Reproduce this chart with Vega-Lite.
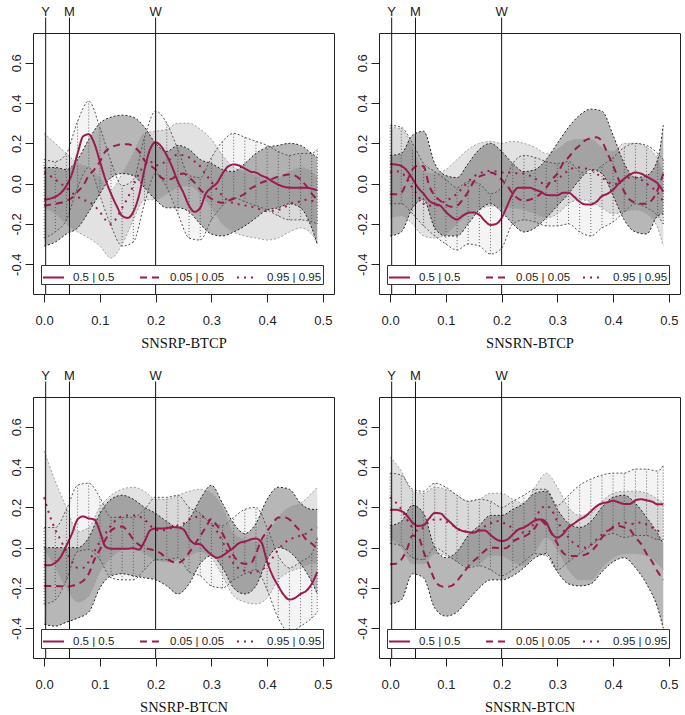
{
"$schema":"https://vega.github.io/schema/vega-lite/v6.json",
"background":"white",
"padding":{"left":9,"top":5,"right":2,"bottom":0},
"autosize":{"type":"pad"},
"datasets":{
"marks":[{"x":0.00274,"t":"Y"},{"x":0.04545,"t":"M"},{"x":0.2,"t":"W"}],
"lines":[
{"p":1,"x":0,"a":-0.08,"b":-0.11,"c":0.055},{"p":1,"x":0.01,"a":-0.075,"b":-0.105,"c":0.04},{"p":1,"x":0.02,"a":-0.065,"b":-0.1,"c":0.02},{"p":1,"x":0.03,"a":-0.046,"b":-0.095,"c":0},{"p":1,"x":0.04,"a":-0.01,"b":-0.085,"c":-0.02},{"p":1,"x":0.05,"a":0.05,"b":-0.07,"c":-0.045},{"p":1,"x":0.06,"a":0.15,"b":-0.04,"c":-0.065},{"p":1,"x":0.07,"a":0.235,"b":-0.01,"c":-0.08},{"p":1,"x":0.08,"a":0.245,"b":0.04,"c":-0.09},{"p":1,"x":0.09,"a":0.2,"b":0.07,"c":-0.11},{"p":1,"x":0.1,"a":0.11,"b":0.11,"c":-0.14},{"p":1,"x":0.11,"a":0.02,"b":0.16,"c":-0.18},{"p":1,"x":0.12,"a":-0.05,"b":0.18,"c":-0.2},{"p":1,"x":0.13,"a":-0.11,"b":0.19,"c":-0.17},{"p":1,"x":0.14,"a":-0.16,"b":0.195,"c":-0.12},{"p":1,"x":0.15,"a":-0.17,"b":0.195,"c":-0.07},{"p":1,"x":0.16,"a":-0.14,"b":0.185,"c":-0.01},{"p":1,"x":0.17,"a":-0.06,"b":0.16,"c":0.05},{"p":1,"x":0.18,"a":0.07,"b":0.115,"c":0.09},{"p":1,"x":0.19,"a":0.17,"b":0.09,"c":0.11},{"p":1,"x":0.2,"a":0.205,"b":0.07,"c":0.09},{"p":1,"x":0.21,"a":0.185,"b":0.03,"c":0.1},{"p":1,"x":0.22,"a":0.14,"b":0.02,"c":0.11},{"p":1,"x":0.23,"a":0.08,"b":0.025,"c":0.13},{"p":1,"x":0.24,"a":0.01,"b":0.045,"c":0.145},{"p":1,"x":0.25,"a":-0.046,"b":0.05,"c":0.14},{"p":1,"x":0.26,"a":-0.11,"b":0.03,"c":0.13},{"p":1,"x":0.27,"a":-0.14,"b":0.005,"c":0.11},{"p":1,"x":0.28,"a":-0.12,"b":-0.03,"c":0.086},{"p":1,"x":0.29,"a":-0.05,"b":-0.055,"c":0.045},{"p":1,"x":0.3,"a":-0.02,"b":-0.075,"c":0.01},{"p":1,"x":0.31,"a":0.003,"b":-0.09,"c":-0.03},{"p":1,"x":0.32,"a":0.05,"b":-0.095,"c":-0.06},{"p":1,"x":0.33,"a":0.085,"b":-0.085,"c":-0.085},{"p":1,"x":0.34,"a":0.095,"b":-0.075,"c":-0.097},{"p":1,"x":0.35,"a":0.09,"b":-0.065,"c":-0.103},{"p":1,"x":0.36,"a":0.075,"b":-0.05,"c":-0.108},{"p":1,"x":0.37,"a":0.06,"b":-0.025,"c":-0.113},{"p":1,"x":0.38,"a":0.055,"b":-0.01,"c":-0.12},{"p":1,"x":0.39,"a":0.04,"b":0.005,"c":-0.13},{"p":1,"x":0.4,"a":0.028,"b":0.015,"c":-0.137},{"p":1,"x":0.41,"a":0.01,"b":0.025,"c":-0.135},{"p":1,"x":0.42,"a":-0.005,"b":0.035,"c":-0.13},{"p":1,"x":0.43,"a":-0.015,"b":0.042,"c":-0.12},{"p":1,"x":0.44,"a":-0.02,"b":0.045,"c":-0.1},{"p":1,"x":0.45,"a":-0.02,"b":0.04,"c":-0.093},{"p":1,"x":0.46,"a":-0.02,"b":0.02,"c":-0.088},{"p":1,"x":0.47,"a":-0.02,"b":-0.01,"c":-0.08},{"p":1,"x":0.48,"a":-0.025,"b":-0.05,"c":-0.085},{"p":1,"x":0.49,"a":-0.033,"b":-0.08,"c":-0.105},
{"p":2,"x":0,"a":0.097,"b":-0.053,"c":0.055},{"p":2,"x":0.01,"a":0.095,"b":-0.053,"c":0.062},{"p":2,"x":0.02,"a":0.088,"b":-0.045,"c":0.055},{"p":2,"x":0.03,"a":0.065,"b":0.01,"c":0.025},{"p":2,"x":0.04,"a":0.025,"b":0.07,"c":-0.02},{"p":2,"x":0.05,"a":-0.02,"b":0.09,"c":-0.06},{"p":2,"x":0.06,"a":-0.05,"b":0.085,"c":-0.1},{"p":2,"x":0.07,"a":-0.085,"b":-0.01,"c":-0.11},{"p":2,"x":0.08,"a":-0.1,"b":-0.06,"c":-0.11},{"p":2,"x":0.09,"a":-0.11,"b":-0.085,"c":-0.1},{"p":2,"x":0.1,"a":-0.14,"b":-0.105,"c":-0.085},{"p":2,"x":0.11,"a":-0.165,"b":-0.115,"c":-0.07},{"p":2,"x":0.12,"a":-0.178,"b":-0.11,"c":-0.05},{"p":2,"x":0.13,"a":-0.16,"b":-0.08,"c":-0.02},{"p":2,"x":0.14,"a":-0.145,"b":-0.04,"c":0.01},{"p":2,"x":0.15,"a":-0.143,"b":0.01,"c":0.035},{"p":2,"x":0.16,"a":-0.155,"b":0.035,"c":0.05},{"p":2,"x":0.17,"a":-0.185,"b":0.045,"c":0.06},{"p":2,"x":0.18,"a":-0.205,"b":0.055,"c":0.063},{"p":2,"x":0.19,"a":-0.2,"b":0.045,"c":0.06},{"p":2,"x":0.2,"a":-0.17,"b":0.02,"c":0.055},{"p":2,"x":0.21,"a":-0.11,"b":-0.01,"c":0.055},{"p":2,"x":0.22,"a":-0.05,"b":-0.05,"c":0.055},{"p":2,"x":0.23,"a":-0.02,"b":-0.075,"c":0.05},{"p":2,"x":0.24,"a":-0.02,"b":-0.085,"c":0.05},{"p":2,"x":0.25,"a":-0.02,"b":-0.08,"c":0.04},{"p":2,"x":0.26,"a":-0.03,"b":-0.07,"c":0.025},{"p":2,"x":0.27,"a":-0.04,"b":-0.05,"c":0.005},{"p":2,"x":0.28,"a":-0.055,"b":-0.02,"c":0},{"p":2,"x":0.29,"a":-0.058,"b":0.02,"c":0.005},{"p":2,"x":0.3,"a":-0.058,"b":0.05,"c":0.02},{"p":2,"x":0.31,"a":-0.045,"b":0.1,"c":0.045},{"p":2,"x":0.32,"a":-0.045,"b":0.13,"c":0.065},{"p":2,"x":0.33,"a":-0.065,"b":0.165,"c":0.078},{"p":2,"x":0.34,"a":-0.09,"b":0.19,"c":0.08},{"p":2,"x":0.35,"a":-0.103,"b":0.215,"c":0.075},{"p":2,"x":0.36,"a":-0.103,"b":0.225,"c":0.07},{"p":2,"x":0.37,"a":-0.09,"b":0.23,"c":0.05},{"p":2,"x":0.38,"a":-0.062,"b":0.21,"c":0.03},{"p":2,"x":0.39,"a":-0.05,"b":0.15,"c":0.01},{"p":2,"x":0.4,"a":-0.03,"b":0.09,"c":-0.005},{"p":2,"x":0.41,"a":0,"b":0.02,"c":0.005},{"p":2,"x":0.42,"a":0.025,"b":-0.04,"c":0.02},{"p":2,"x":0.43,"a":0.045,"b":-0.08,"c":0.03},{"p":2,"x":0.44,"a":0.055,"b":-0.095,"c":0.03},{"p":2,"x":0.45,"a":0.05,"b":-0.1,"c":0.02},{"p":2,"x":0.46,"a":0.035,"b":-0.1,"c":0},{"p":2,"x":0.47,"a":0.02,"b":-0.08,"c":-0.02},{"p":2,"x":0.48,"a":0,"b":-0.03,"c":-0.045},{"p":2,"x":0.49,"a":-0.04,"b":0.05,"c":-0.09},
{"p":3,"x":0,"a":-0.088,"b":-0.19,"c":0.25},{"p":3,"x":0.01,"a":-0.087,"b":-0.19,"c":0.16},{"p":3,"x":0.02,"a":-0.075,"b":-0.19,"c":0.09},{"p":3,"x":0.03,"a":-0.045,"b":-0.192,"c":0.035},{"p":3,"x":0.04,"a":0.01,"b":-0.195,"c":-0.02},{"p":3,"x":0.05,"a":0.07,"b":-0.19,"c":-0.07},{"p":3,"x":0.06,"a":0.14,"b":-0.18,"c":-0.1},{"p":3,"x":0.07,"a":0.155,"b":-0.165,"c":-0.1},{"p":3,"x":0.08,"a":0.145,"b":-0.13,"c":-0.07},{"p":3,"x":0.09,"a":0.14,"b":-0.06,"c":-0.02},{"p":3,"x":0.1,"a":0.08,"b":-0.01,"c":0.03},{"p":3,"x":0.11,"a":0.005,"b":0.04,"c":0.07},{"p":3,"x":0.12,"a":-0.005,"b":0.085,"c":0.11},{"p":3,"x":0.13,"a":-0.005,"b":0.1,"c":0.14},{"p":3,"x":0.14,"a":-0.005,"b":0.105,"c":0.155},{"p":3,"x":0.15,"a":-0.005,"b":0.08,"c":0.16},{"p":3,"x":0.16,"a":-0.003,"b":0.04,"c":0.16},{"p":3,"x":0.17,"a":-0.01,"b":0.015,"c":0.155},{"p":3,"x":0.18,"a":0.03,"b":0,"c":0.14},{"p":3,"x":0.19,"a":0.085,"b":-0.008,"c":0.11},{"p":3,"x":0.2,"a":0.095,"b":-0.015,"c":0.09},{"p":3,"x":0.21,"a":0.095,"b":-0.03,"c":0.085},{"p":3,"x":0.22,"a":0.097,"b":-0.055,"c":0.09},{"p":3,"x":0.23,"a":0.102,"b":-0.07,"c":0.1},{"p":3,"x":0.24,"a":0.1,"b":-0.075,"c":0.11},{"p":3,"x":0.25,"a":0.09,"b":-0.06,"c":0.12},{"p":3,"x":0.26,"a":0.045,"b":-0.025,"c":0.14},{"p":3,"x":0.27,"a":0.02,"b":0.015,"c":0.15},{"p":3,"x":0.28,"a":0.017,"b":0.058,"c":0.155},{"p":3,"x":0.29,"a":-0.01,"b":0.1,"c":0.15},{"p":3,"x":0.3,"a":-0.035,"b":0.142,"c":0.12},{"p":3,"x":0.31,"a":-0.05,"b":0.11,"c":0.08},{"p":3,"x":0.32,"a":-0.04,"b":0.07,"c":0.03},{"p":3,"x":0.33,"a":-0.02,"b":0.015,"c":-0.03},{"p":3,"x":0.34,"a":0,"b":-0.04,"c":-0.08},{"p":3,"x":0.35,"a":0.023,"b":-0.07,"c":-0.105},{"p":3,"x":0.36,"a":0.03,"b":-0.08,"c":-0.115},{"p":3,"x":0.37,"a":0.04,"b":-0.08,"c":-0.125},{"p":3,"x":0.38,"a":0.045,"b":-0.03,"c":-0.12},{"p":3,"x":0.39,"a":0.025,"b":0.04,"c":-0.11},{"p":3,"x":0.4,"a":-0.07,"b":0.08,"c":-0.09},{"p":3,"x":0.41,"a":-0.14,"b":0.12,"c":-0.05},{"p":3,"x":0.42,"a":-0.19,"b":0.15,"c":-0.01},{"p":3,"x":0.43,"a":-0.235,"b":0.15,"c":0.02},{"p":3,"x":0.44,"a":-0.258,"b":0.14,"c":0.04},{"p":3,"x":0.45,"a":-0.25,"b":0.11,"c":0.05},{"p":3,"x":0.46,"a":-0.23,"b":0.08,"c":0.06},{"p":3,"x":0.47,"a":-0.215,"b":0.04,"c":0.07},{"p":3,"x":0.48,"a":-0.18,"b":0.02,"c":0.09},{"p":3,"x":0.49,"a":-0.12,"b":-0.008,"c":0.1},
{"p":4,"x":0,"a":0.188,"b":-0.083,"c":0.25},{"p":4,"x":0.01,"a":0.188,"b":-0.08,"c":0.225},{"p":4,"x":0.02,"a":0.182,"b":-0.06,"c":0.19},{"p":4,"x":0.03,"a":0.16,"b":-0.01,"c":0.14},{"p":4,"x":0.04,"a":0.125,"b":0.06,"c":0.1},{"p":4,"x":0.05,"a":0.108,"b":0.055,"c":0.083},{"p":4,"x":0.06,"a":0.112,"b":-0.02,"c":0.1},{"p":4,"x":0.07,"a":0.145,"b":-0.09,"c":0.128},{"p":4,"x":0.08,"a":0.172,"b":-0.16,"c":0.14},{"p":4,"x":0.09,"a":0.17,"b":-0.19,"c":0.14},{"p":4,"x":0.1,"a":0.145,"b":-0.195,"c":0.13},{"p":4,"x":0.11,"a":0.12,"b":-0.19,"c":0.115},{"p":4,"x":0.12,"a":0.095,"b":-0.165,"c":0.095},{"p":4,"x":0.13,"a":0.083,"b":-0.13,"c":0.085},{"p":4,"x":0.14,"a":0.077,"b":-0.095,"c":0.078},{"p":4,"x":0.15,"a":0.075,"b":-0.065,"c":0.075},{"p":4,"x":0.16,"a":0.085,"b":-0.042,"c":0.09},{"p":4,"x":0.17,"a":0.085,"b":-0.015,"c":0.105},{"p":4,"x":0.18,"a":0.063,"b":0,"c":0.12},{"p":4,"x":0.19,"a":0.042,"b":0,"c":0.133},{"p":4,"x":0.2,"a":0.033,"b":-0.005,"c":0.125},{"p":4,"x":0.21,"a":0.04,"b":0,"c":0.115},{"p":4,"x":0.22,"a":0.065,"b":0.03,"c":0.095},{"p":4,"x":0.23,"a":0.09,"b":0.045,"c":0.078},{"p":4,"x":0.24,"a":0.1,"b":0.055,"c":0.075},{"p":4,"x":0.25,"a":0.117,"b":0.07,"c":0.08},{"p":4,"x":0.26,"a":0.135,"b":0.1,"c":0.14},{"p":4,"x":0.27,"a":0.14,"b":0.135,"c":0.19},{"p":4,"x":0.28,"a":0.125,"b":0.11,"c":0.208},{"p":4,"x":0.29,"a":0.07,"b":0.07,"c":0.185},{"p":4,"x":0.3,"a":0.05,"b":0.02,"c":0.13},{"p":4,"x":0.31,"a":0.067,"b":-0.025,"c":0.09},{"p":4,"x":0.32,"a":0.1,"b":-0.04,"c":0.05},{"p":4,"x":0.33,"a":0.12,"b":-0.042,"c":0.02},{"p":4,"x":0.34,"a":0.14,"b":-0.042,"c":0.005},{"p":4,"x":0.35,"a":0.155,"b":-0.035,"c":0},{"p":4,"x":0.36,"a":0.18,"b":-0.02,"c":0.015},{"p":4,"x":0.37,"a":0.205,"b":0.01,"c":0.04},{"p":4,"x":0.38,"a":0.22,"b":0.05,"c":0.065},{"p":4,"x":0.39,"a":0.225,"b":0.08,"c":0.085},{"p":4,"x":0.4,"a":0.233,"b":0.1,"c":0.105},{"p":4,"x":0.41,"a":0.225,"b":0.108,"c":0.12},{"p":4,"x":0.42,"a":0.217,"b":0.1,"c":0.125},{"p":4,"x":0.43,"a":0.217,"b":0.09,"c":0.117},{"p":4,"x":0.44,"a":0.235,"b":0.05,"c":0.12},{"p":4,"x":0.45,"a":0.24,"b":0.02,"c":0.125},{"p":4,"x":0.46,"a":0.235,"b":-0.03,"c":0.115},{"p":4,"x":0.47,"a":0.228,"b":-0.07,"c":0.1},{"p":4,"x":0.48,"a":0.215,"b":-0.12,"c":0.085},{"p":4,"x":0.49,"a":0.215,"b":-0.16,"c":0.065}
],
"bands":[
{"p":1,"x":0,"l1":-0.12,"h1":0.25,"l2":-0.31,"h2":0.08,"l3":-0.27,"h3":0.12},{"p":1,"x":0.02,"l1":-0.15,"h1":0.2,"l2":-0.29,"h2":0.08,"l3":-0.24,"h3":0.11},{"p":1,"x":0.04,"l1":-0.2,"h1":0.15,"l2":-0.25,"h2":0.07,"l3":-0.18,"h3":0.15},{"p":1,"x":0.06,"l1":-0.24,"h1":0.1,"l2":-0.22,"h2":0.12,"l3":-0.02,"h3":0.31},{"p":1,"x":0.08,"l1":-0.27,"h1":0.08,"l2":-0.14,"h2":0.22,"l3":0.08,"h3":0.41},{"p":1,"x":0.1,"l1":-0.31,"h1":0.03,"l2":-0.05,"h2":0.3,"l3":-0.06,"h3":0.28},{"p":1,"x":0.12,"l1":-0.37,"h1":-0.03,"l2":0.03,"h2":0.33,"l3":-0.21,"h3":0.11},{"p":1,"x":0.14,"l1":-0.3,"h1":0.05,"l2":0.05,"h2":0.34,"l3":-0.31,"h3":-0.01},{"p":1,"x":0.16,"l1":-0.18,"h1":0.15,"l2":0.04,"h2":0.33,"l3":-0.29,"h3":0.02},{"p":1,"x":0.18,"l1":-0.08,"h1":0.25,"l2":-0.02,"h2":0.28,"l3":-0.1,"h3":0.23},{"p":1,"x":0.2,"l1":-0.08,"h1":0.26,"l2":-0.08,"h2":0.2,"l3":0.05,"h3":0.36},{"p":1,"x":0.22,"l1":-0.05,"h1":0.27,"l2":-0.12,"h2":0.16,"l3":-0.02,"h3":0.3},{"p":1,"x":0.24,"l1":-0.02,"h1":0.3,"l2":-0.12,"h2":0.19,"l3":-0.15,"h3":0.17},{"p":1,"x":0.26,"l1":-0.01,"h1":0.3,"l2":-0.14,"h2":0.17,"l3":-0.27,"h3":0.04},{"p":1,"x":0.28,"l1":-0.05,"h1":0.27,"l2":-0.2,"h2":0.12,"l3":-0.28,"h3":0.03},{"p":1,"x":0.3,"l1":-0.12,"h1":0.22,"l2":-0.25,"h2":0.1,"l3":-0.18,"h3":0.13},{"p":1,"x":0.32,"l1":-0.2,"h1":0.14,"l2":-0.26,"h2":0.07,"l3":-0.11,"h3":0.21},{"p":1,"x":0.34,"l1":-0.24,"h1":0.08,"l2":-0.24,"h2":0.06,"l3":-0.07,"h3":0.25},{"p":1,"x":0.36,"l1":-0.26,"h1":0.06,"l2":-0.21,"h2":0.1,"l3":-0.09,"h3":0.23},{"p":1,"x":0.38,"l1":-0.27,"h1":0.04,"l2":-0.17,"h2":0.15,"l3":-0.11,"h3":0.21},{"p":1,"x":0.4,"l1":-0.28,"h1":0.02,"l2":-0.13,"h2":0.18,"l3":-0.13,"h3":0.19},{"p":1,"x":0.42,"l1":-0.27,"h1":0.03,"l2":-0.12,"h2":0.19,"l3":-0.16,"h3":0.16},{"p":1,"x":0.44,"l1":-0.24,"h1":0.06,"l2":-0.1,"h2":0.2,"l3":-0.18,"h3":0.14},{"p":1,"x":0.46,"l1":-0.22,"h1":0.08,"l2":-0.12,"h2":0.19,"l3":-0.18,"h3":0.15},{"p":1,"x":0.48,"l1":-0.25,"h1":0.06,"l2":-0.22,"h2":0.15,"l3":-0.19,"h3":0.15},{"p":1,"x":0.49,"l1":-0.3,"h1":0.03,"l2":-0.3,"h2":0.13,"l3":-0.2,"h3":0.17},
{"p":2,"x":0,"l1":-0.17,"h1":0.28,"l2":-0.26,"h2":0.14,"l3":-0.1,"h3":0.29},{"p":2,"x":0.02,"l1":-0.16,"h1":0.27,"l2":-0.24,"h2":0.15,"l3":-0.1,"h3":0.28},{"p":2,"x":0.04,"l1":-0.2,"h1":0.18,"l2":-0.12,"h2":0.24,"l3":-0.15,"h3":0.2},{"p":2,"x":0.06,"l1":-0.26,"h1":0.06,"l2":-0.08,"h2":0.26,"l3":-0.21,"h3":0.1},{"p":2,"x":0.08,"l1":-0.27,"h1":0.05,"l2":-0.22,"h2":0.1,"l3":-0.26,"h3":0.06},{"p":2,"x":0.1,"l1":-0.25,"h1":0.07,"l2":-0.26,"h2":0.04,"l3":-0.3,"h3":0.02},{"p":2,"x":0.12,"l1":-0.2,"h1":0.12,"l2":-0.26,"h2":0.03,"l3":-0.33,"h3":-0.02},{"p":2,"x":0.14,"l1":-0.15,"h1":0.17,"l2":-0.2,"h2":0.1,"l3":-0.3,"h3":0.01},{"p":2,"x":0.16,"l1":-0.13,"h1":0.2,"l2":-0.13,"h2":0.17,"l3":-0.31,"h3":0},{"p":2,"x":0.18,"l1":-0.11,"h1":0.21,"l2":-0.1,"h2":0.2,"l3":-0.35,"h3":-0.05},{"p":2,"x":0.2,"l1":-0.12,"h1":0.2,"l2":-0.14,"h2":0.16,"l3":-0.32,"h3":-0.02},{"p":2,"x":0.22,"l1":-0.12,"h1":0.21,"l2":-0.2,"h2":0.1,"l3":-0.2,"h3":0.1},{"p":2,"x":0.24,"l1":-0.13,"h1":0.2,"l2":-0.24,"h2":0.06,"l3":-0.18,"h3":0.14},{"p":2,"x":0.26,"l1":-0.15,"h1":0.18,"l2":-0.22,"h2":0.07,"l3":-0.19,"h3":0.13},{"p":2,"x":0.28,"l1":-0.17,"h1":0.15,"l2":-0.17,"h2":0.12,"l3":-0.21,"h3":0.11},{"p":2,"x":0.3,"l1":-0.15,"h1":0.17,"l2":-0.11,"h2":0.2,"l3":-0.21,"h3":0.1},{"p":2,"x":0.32,"l1":-0.1,"h1":0.21,"l2":-0.05,"h2":0.28,"l3":-0.2,"h3":0.11},{"p":2,"x":0.34,"l1":-0.08,"h1":0.22,"l2":0.02,"h2":0.34,"l3":-0.24,"h3":0.06},{"p":2,"x":0.36,"l1":-0.09,"h1":0.22,"l2":0.07,"h2":0.37,"l3":-0.26,"h3":0.05},{"p":2,"x":0.38,"l1":-0.12,"h1":0.18,"l2":0.05,"h2":0.36,"l3":-0.22,"h3":0.09},{"p":2,"x":0.4,"l1":-0.15,"h1":0.16,"l2":-0.06,"h2":0.24,"l3":-0.19,"h3":0.13},{"p":2,"x":0.42,"l1":-0.14,"h1":0.2,"l2":-0.18,"h2":0.1,"l3":-0.14,"h3":0.18},{"p":2,"x":0.44,"l1":-0.13,"h1":0.2,"l2":-0.24,"h2":0.03,"l3":-0.1,"h3":0.2},{"p":2,"x":0.46,"l1":-0.15,"h1":0.18,"l2":-0.25,"h2":0.04,"l3":-0.12,"h3":0.19},{"p":2,"x":0.48,"l1":-0.22,"h1":0.12,"l2":-0.16,"h2":0.12,"l3":-0.16,"h3":0.15},{"p":2,"x":0.49,"l1":-0.31,"h1":0.05,"l2":-0.15,"h2":0.29,"l3":-0.2,"h3":0.12},
{"p":3,"x":0,"l1":0,"h1":0.48,"l2":-0.38,"h2":0,"l3":-0.28,"h3":0.1},{"p":3,"x":0.02,"l1":-0.1,"h1":0.33,"l2":-0.39,"h2":0,"l3":-0.26,"h3":0.1},{"p":3,"x":0.04,"l1":-0.2,"h1":0.2,"l2":-0.37,"h2":0,"l3":-0.16,"h3":0.19},{"p":3,"x":0.06,"l1":-0.27,"h1":0.08,"l2":-0.35,"h2":0,"l3":-0.02,"h3":0.31},{"p":3,"x":0.08,"l1":-0.24,"h1":0.1,"l2":-0.32,"h2":0.05,"l3":-0.01,"h3":0.32},{"p":3,"x":0.1,"l1":-0.12,"h1":0.2,"l2":-0.2,"h2":0.17,"l3":-0.06,"h3":0.25},{"p":3,"x":0.12,"l1":-0.05,"h1":0.26,"l2":-0.14,"h2":0.24,"l3":-0.15,"h3":0.15},{"p":3,"x":0.14,"l1":-0.01,"h1":0.29,"l2":-0.13,"h2":0.26,"l3":-0.16,"h3":0.15},{"p":3,"x":0.16,"l1":0,"h1":0.3,"l2":-0.14,"h2":0.24,"l3":-0.16,"h3":0.15},{"p":3,"x":0.18,"l1":-0.03,"h1":0.28,"l2":-0.15,"h2":0.2,"l3":-0.11,"h3":0.19},{"p":3,"x":0.2,"l1":-0.06,"h1":0.24,"l2":-0.16,"h2":0.17,"l3":-0.06,"h3":0.25},{"p":3,"x":0.22,"l1":-0.07,"h1":0.24,"l2":-0.19,"h2":0.13,"l3":-0.06,"h3":0.25},{"p":3,"x":0.24,"l1":-0.06,"h1":0.26,"l2":-0.23,"h2":0.1,"l3":-0.05,"h3":0.26},{"p":3,"x":0.26,"l1":-0.04,"h1":0.28,"l2":-0.18,"h2":0.14,"l3":-0.12,"h3":0.2},{"p":3,"x":0.28,"l1":-0.02,"h1":0.29,"l2":-0.08,"h2":0.24,"l3":-0.14,"h3":0.17},{"p":3,"x":0.3,"l1":-0.05,"h1":0.27,"l2":-0.04,"h2":0.31,"l3":-0.19,"h3":0.12},{"p":3,"x":0.32,"l1":-0.14,"h1":0.2,"l2":-0.1,"h2":0.22,"l3":-0.2,"h3":0.11},{"p":3,"x":0.34,"l1":-0.24,"h1":0.07,"l2":-0.2,"h2":0.12,"l3":-0.16,"h3":0.15},{"p":3,"x":0.36,"l1":-0.27,"h1":0.04,"l2":-0.23,"h2":0.07,"l3":-0.13,"h3":0.19},{"p":3,"x":0.38,"l1":-0.28,"h1":0.03,"l2":-0.19,"h2":0.12,"l3":-0.11,"h3":0.2},{"p":3,"x":0.4,"l1":-0.25,"h1":0.06,"l2":-0.06,"h2":0.24,"l3":-0.21,"h3":0.1},{"p":3,"x":0.42,"l1":-0.16,"h1":0.15,"l2":0,"h2":0.3,"l3":-0.35,"h3":-0.04},{"p":3,"x":0.44,"l1":-0.12,"h1":0.2,"l2":-0.02,"h2":0.29,"l3":-0.42,"h3":-0.1},{"p":3,"x":0.46,"l1":-0.1,"h1":0.22,"l2":-0.08,"h2":0.22,"l3":-0.39,"h3":-0.07},{"p":3,"x":0.48,"l1":-0.08,"h1":0.27,"l2":-0.17,"h2":0.19,"l3":-0.35,"h3":-0.03},{"p":3,"x":0.49,"l1":-0.08,"h1":0.3,"l2":-0.23,"h2":0.19,"l3":-0.32,"h3":0.05},
{"p":4,"x":0,"l1":0.05,"h1":0.45,"l2":-0.28,"h2":0.11,"l3":0.02,"h3":0.37},{"p":4,"x":0.02,"l1":0,"h1":0.38,"l2":-0.26,"h2":0.13,"l3":0.01,"h3":0.36},{"p":4,"x":0.04,"l1":-0.08,"h1":0.28,"l2":-0.13,"h2":0.21,"l3":-0.05,"h3":0.29},{"p":4,"x":0.06,"l1":-0.08,"h1":0.27,"l2":-0.15,"h2":0.17,"l3":-0.06,"h3":0.28},{"p":4,"x":0.08,"l1":-0.03,"h1":0.3,"l2":-0.3,"h2":0,"l3":0,"h3":0.32},{"p":4,"x":0.1,"l1":-0.04,"h1":0.29,"l2":-0.34,"h2":-0.05,"l3":-0.03,"h3":0.3},{"p":4,"x":0.12,"l1":-0.07,"h1":0.26,"l2":-0.32,"h2":-0.02,"l3":-0.07,"h3":0.26},{"p":4,"x":0.14,"l1":-0.09,"h1":0.23,"l2":-0.26,"h2":0.06,"l3":-0.1,"h3":0.23},{"p":4,"x":0.16,"l1":-0.08,"h1":0.24,"l2":-0.2,"h2":0.11,"l3":-0.09,"h3":0.24},{"p":4,"x":0.18,"l1":-0.04,"h1":0.27,"l2":-0.16,"h2":0.16,"l3":-0.11,"h3":0.23},{"p":4,"x":0.2,"l1":-0.04,"h1":0.27,"l2":-0.16,"h2":0.16,"l3":-0.14,"h3":0.2},{"p":4,"x":0.22,"l1":-0.07,"h1":0.24,"l2":-0.14,"h2":0.19,"l3":-0.11,"h3":0.23},{"p":4,"x":0.24,"l1":-0.09,"h1":0.22,"l2":-0.1,"h2":0.22,"l3":-0.07,"h3":0.26},{"p":4,"x":0.26,"l1":-0.02,"h1":0.3,"l2":-0.05,"h2":0.27,"l3":-0.03,"h3":0.29},{"p":4,"x":0.28,"l1":0.05,"h1":0.37,"l2":-0.03,"h2":0.28,"l3":-0.04,"h3":0.29},{"p":4,"x":0.3,"l1":-0.01,"h1":0.3,"l2":-0.12,"h2":0.19,"l3":-0.11,"h3":0.21},{"p":4,"x":0.32,"l1":-0.11,"h1":0.2,"l2":-0.18,"h2":0.12,"l3":-0.07,"h3":0.26},{"p":4,"x":0.34,"l1":-0.16,"h1":0.16,"l2":-0.19,"h2":0.1,"l3":-0.03,"h3":0.31},{"p":4,"x":0.36,"l1":-0.16,"h1":0.17,"l2":-0.18,"h2":0.13,"l3":0.01,"h3":0.34},{"p":4,"x":0.38,"l1":-0.1,"h1":0.23,"l2":-0.12,"h2":0.2,"l3":0.05,"h3":0.36},{"p":4,"x":0.4,"l1":-0.05,"h1":0.27,"l2":-0.07,"h2":0.25,"l3":0.07,"h3":0.37},{"p":4,"x":0.42,"l1":-0.03,"h1":0.28,"l2":-0.05,"h2":0.26,"l3":0.05,"h3":0.37},{"p":4,"x":0.44,"l1":-0.03,"h1":0.28,"l2":-0.1,"h2":0.22,"l3":0.06,"h3":0.39},{"p":4,"x":0.46,"l1":-0.04,"h1":0.27,"l2":-0.18,"h2":0.15,"l3":0.06,"h3":0.39},{"p":4,"x":0.48,"l1":-0.08,"h1":0.24,"l2":-0.3,"h2":0.07,"l3":0.04,"h3":0.38},{"p":4,"x":0.49,"l1":-0.11,"h1":0.22,"l2":-0.4,"h2":0.02,"l3":0.04,"h3":0.41}
]
},
"columns":2,
"spacing":{"row":19,"column":20},
"concat":[
{"width":301,"height":261,
"encoding":{"x":{"field":"x","type":"quantitative","scale":{"domain":[-0.02,0.52],"nice":false,"zero":false},"title":"SNSRP-BTCP"}},
"layer":[
{"data":{"name":"bands"},"transform":[{"filter":"datum.p == 1"}],"mark":{"type":"area","interpolate":"monotone","color":"#bbbbbb","opacity":0.42},"encoding":{"y":{"field":"l1","type":"quantitative","scale":{"domain":[-0.548,0.748],"nice":false,"zero":false},"title":null},"y2":{"field":"h1"}}},
{"data":{"name":"bands"},"transform":[{"filter":"datum.p == 1"}],"mark":{"type":"area","interpolate":"monotone","color":"#111111","opacity":0.3},"encoding":{"y":{"field":"l2","type":"quantitative","scale":{"domain":[-0.548,0.748],"nice":false,"zero":false},"title":null},"y2":{"field":"h2"}}},
{"data":{"name":"bands"},"transform":[{"filter":"datum.p == 1"}],"mark":{"type":"area","interpolate":"monotone","color":"#777777","opacity":0.08},"encoding":{"y":{"field":"l3","type":"quantitative","scale":{"domain":[-0.548,0.748],"nice":false,"zero":false},"title":null},"y2":{"field":"h3"}}},
{"data":{"name":"bands"},"transform":[{"filter":"datum.p == 1"}],"mark":{"type":"rule","color":"#444444","strokeWidth":0.8,"strokeDash":[1,2]},"encoding":{"y":{"field":"l3","type":"quantitative","scale":{"domain":[-0.548,0.748],"nice":false,"zero":false},"title":null},"y2":{"field":"h3"}}},
{"data":{"name":"bands"},"transform":[{"filter":"datum.p == 1"},{"fold":["l1","h1"],"as":["e","v"]}],"mark":{"type":"line","interpolate":"monotone","color":"#a0a0a0","strokeWidth":1,"strokeDash":[2,2]},"encoding":{"y":{"field":"v","type":"quantitative","scale":{"domain":[-0.548,0.748],"nice":false,"zero":false},"title":null},"detail":{"field":"e"}}},
{"data":{"name":"bands"},"transform":[{"filter":"datum.p == 1"},{"fold":["l2","h2"],"as":["e","v"]}],"mark":{"type":"line","interpolate":"monotone","color":"#222222","strokeWidth":1,"strokeDash":[2,2]},"encoding":{"y":{"field":"v","type":"quantitative","scale":{"domain":[-0.548,0.748],"nice":false,"zero":false},"title":null},"detail":{"field":"e"}}},
{"data":{"name":"bands"},"transform":[{"filter":"datum.p == 1"},{"fold":["l3","h3"],"as":["e","v"]}],"mark":{"type":"line","interpolate":"monotone","color":"#555555","strokeWidth":1,"strokeDash":[2,2]},"encoding":{"y":{"field":"v","type":"quantitative","scale":{"domain":[-0.548,0.748],"nice":false,"zero":false},"title":null},"detail":{"field":"e"}}},
{"data":{"name":"lines"},"transform":[{"filter":"datum.p == 1"},{"fold":["a","b","c"],"as":["q","v"]}],"mark":{"type":"line","interpolate":"monotone","color":"#9b1b4f","strokeWidth":2},"encoding":{"y":{"field":"v","type":"quantitative","scale":{"domain":[-0.548,0.748],"nice":false,"zero":false},"title":null},"strokeDash":{"field":"q","type":"nominal","scale":{"domain":["a","b","c"],"range":[[1,0],[7,5],[2,5]]},"legend":{"orient":"none","legendX":8,"legendY":232,"direction":"horizontal","title":null,"labelExpr":"datum.label == 'a' ? '0.5 | 0.5' : datum.label == 'b' ? '0.05 | 0.05' : '0.95 | 0.95'","symbolType":"stroke","symbolStrokeColor":"#9b1b4f","symbolStrokeWidth":2,"symbolSize":441,"labelFontSize":11.5,"labelFont":"Liberation Sans","labelColor":"#222222","strokeColor":"#333333","fillColor":"white","padding":1,"columnPadding":8,"labelOffset":8,"gridAlign":"all"}}}},
{"data":{"name":"marks"},"mark":{"type":"rule","color":"#111111","strokeWidth":1},"encoding":{"y":{"datum":-0.548,"type":"quantitative","scale":{"domain":[-0.548,0.748],"nice":false,"zero":false},"title":null},"y2":{"datum":0.825}}},
{"data":{"name":"marks"},"mark":{"type":"text","font":"Liberation Sans","fontSize":13,"color":"#222222","baseline":"middle"},"encoding":{"y":{"datum":0.853,"type":"quantitative","scale":{"domain":[-0.548,0.748],"nice":false,"zero":false},"title":null},"text":{"field":"t"}}}
]},
{"width":301,"height":261,
"encoding":{"x":{"field":"x","type":"quantitative","scale":{"domain":[-0.02,0.52],"nice":false,"zero":false},"title":"SNSRN-BTCP"}},
"layer":[
{"data":{"name":"bands"},"transform":[{"filter":"datum.p == 2"}],"mark":{"type":"area","interpolate":"monotone","color":"#bbbbbb","opacity":0.42},"encoding":{"y":{"field":"l1","type":"quantitative","scale":{"domain":[-0.548,0.748],"nice":false,"zero":false},"title":null},"y2":{"field":"h1"}}},
{"data":{"name":"bands"},"transform":[{"filter":"datum.p == 2"}],"mark":{"type":"area","interpolate":"monotone","color":"#111111","opacity":0.3},"encoding":{"y":{"field":"l2","type":"quantitative","scale":{"domain":[-0.548,0.748],"nice":false,"zero":false},"title":null},"y2":{"field":"h2"}}},
{"data":{"name":"bands"},"transform":[{"filter":"datum.p == 2"}],"mark":{"type":"area","interpolate":"monotone","color":"#777777","opacity":0.08},"encoding":{"y":{"field":"l3","type":"quantitative","scale":{"domain":[-0.548,0.748],"nice":false,"zero":false},"title":null},"y2":{"field":"h3"}}},
{"data":{"name":"bands"},"transform":[{"filter":"datum.p == 2"}],"mark":{"type":"rule","color":"#444444","strokeWidth":0.8,"strokeDash":[1,2]},"encoding":{"y":{"field":"l3","type":"quantitative","scale":{"domain":[-0.548,0.748],"nice":false,"zero":false},"title":null},"y2":{"field":"h3"}}},
{"data":{"name":"bands"},"transform":[{"filter":"datum.p == 2"},{"fold":["l1","h1"],"as":["e","v"]}],"mark":{"type":"line","interpolate":"monotone","color":"#a0a0a0","strokeWidth":1,"strokeDash":[2,2]},"encoding":{"y":{"field":"v","type":"quantitative","scale":{"domain":[-0.548,0.748],"nice":false,"zero":false},"title":null},"detail":{"field":"e"}}},
{"data":{"name":"bands"},"transform":[{"filter":"datum.p == 2"},{"fold":["l2","h2"],"as":["e","v"]}],"mark":{"type":"line","interpolate":"monotone","color":"#222222","strokeWidth":1,"strokeDash":[2,2]},"encoding":{"y":{"field":"v","type":"quantitative","scale":{"domain":[-0.548,0.748],"nice":false,"zero":false},"title":null},"detail":{"field":"e"}}},
{"data":{"name":"bands"},"transform":[{"filter":"datum.p == 2"},{"fold":["l3","h3"],"as":["e","v"]}],"mark":{"type":"line","interpolate":"monotone","color":"#555555","strokeWidth":1,"strokeDash":[2,2]},"encoding":{"y":{"field":"v","type":"quantitative","scale":{"domain":[-0.548,0.748],"nice":false,"zero":false},"title":null},"detail":{"field":"e"}}},
{"data":{"name":"lines"},"transform":[{"filter":"datum.p == 2"},{"fold":["a","b","c"],"as":["q","v"]}],"mark":{"type":"line","interpolate":"monotone","color":"#9b1b4f","strokeWidth":2},"encoding":{"y":{"field":"v","type":"quantitative","scale":{"domain":[-0.548,0.748],"nice":false,"zero":false},"title":null},"strokeDash":{"field":"q","type":"nominal","scale":{"domain":["a","b","c"],"range":[[1,0],[7,5],[2,5]]},"legend":{"orient":"none","legendX":8,"legendY":232,"direction":"horizontal","title":null,"labelExpr":"datum.label == 'a' ? '0.5 | 0.5' : datum.label == 'b' ? '0.05 | 0.05' : '0.95 | 0.95'","symbolType":"stroke","symbolStrokeColor":"#9b1b4f","symbolStrokeWidth":2,"symbolSize":441,"labelFontSize":11.5,"labelFont":"Liberation Sans","labelColor":"#222222","strokeColor":"#333333","fillColor":"white","padding":1,"columnPadding":8,"labelOffset":8,"gridAlign":"all"}}}},
{"data":{"name":"marks"},"mark":{"type":"rule","color":"#111111","strokeWidth":1},"encoding":{"y":{"datum":-0.548,"type":"quantitative","scale":{"domain":[-0.548,0.748],"nice":false,"zero":false},"title":null},"y2":{"datum":0.825}}},
{"data":{"name":"marks"},"mark":{"type":"text","font":"Liberation Sans","fontSize":13,"color":"#222222","baseline":"middle"},"encoding":{"y":{"datum":0.853,"type":"quantitative","scale":{"domain":[-0.548,0.748],"nice":false,"zero":false},"title":null},"text":{"field":"t"}}}
]},
{"width":301,"height":261,
"encoding":{"x":{"field":"x","type":"quantitative","scale":{"domain":[-0.02,0.52],"nice":false,"zero":false},"title":"SNSRP-BTCN"}},
"layer":[
{"data":{"name":"bands"},"transform":[{"filter":"datum.p == 3"}],"mark":{"type":"area","interpolate":"monotone","color":"#bbbbbb","opacity":0.42},"encoding":{"y":{"field":"l1","type":"quantitative","scale":{"domain":[-0.548,0.748],"nice":false,"zero":false},"title":null},"y2":{"field":"h1"}}},
{"data":{"name":"bands"},"transform":[{"filter":"datum.p == 3"}],"mark":{"type":"area","interpolate":"monotone","color":"#111111","opacity":0.3},"encoding":{"y":{"field":"l2","type":"quantitative","scale":{"domain":[-0.548,0.748],"nice":false,"zero":false},"title":null},"y2":{"field":"h2"}}},
{"data":{"name":"bands"},"transform":[{"filter":"datum.p == 3"}],"mark":{"type":"area","interpolate":"monotone","color":"#777777","opacity":0.08},"encoding":{"y":{"field":"l3","type":"quantitative","scale":{"domain":[-0.548,0.748],"nice":false,"zero":false},"title":null},"y2":{"field":"h3"}}},
{"data":{"name":"bands"},"transform":[{"filter":"datum.p == 3"}],"mark":{"type":"rule","color":"#444444","strokeWidth":0.8,"strokeDash":[1,2]},"encoding":{"y":{"field":"l3","type":"quantitative","scale":{"domain":[-0.548,0.748],"nice":false,"zero":false},"title":null},"y2":{"field":"h3"}}},
{"data":{"name":"bands"},"transform":[{"filter":"datum.p == 3"},{"fold":["l1","h1"],"as":["e","v"]}],"mark":{"type":"line","interpolate":"monotone","color":"#a0a0a0","strokeWidth":1,"strokeDash":[2,2]},"encoding":{"y":{"field":"v","type":"quantitative","scale":{"domain":[-0.548,0.748],"nice":false,"zero":false},"title":null},"detail":{"field":"e"}}},
{"data":{"name":"bands"},"transform":[{"filter":"datum.p == 3"},{"fold":["l2","h2"],"as":["e","v"]}],"mark":{"type":"line","interpolate":"monotone","color":"#222222","strokeWidth":1,"strokeDash":[2,2]},"encoding":{"y":{"field":"v","type":"quantitative","scale":{"domain":[-0.548,0.748],"nice":false,"zero":false},"title":null},"detail":{"field":"e"}}},
{"data":{"name":"bands"},"transform":[{"filter":"datum.p == 3"},{"fold":["l3","h3"],"as":["e","v"]}],"mark":{"type":"line","interpolate":"monotone","color":"#555555","strokeWidth":1,"strokeDash":[2,2]},"encoding":{"y":{"field":"v","type":"quantitative","scale":{"domain":[-0.548,0.748],"nice":false,"zero":false},"title":null},"detail":{"field":"e"}}},
{"data":{"name":"lines"},"transform":[{"filter":"datum.p == 3"},{"fold":["a","b","c"],"as":["q","v"]}],"mark":{"type":"line","interpolate":"monotone","color":"#9b1b4f","strokeWidth":2},"encoding":{"y":{"field":"v","type":"quantitative","scale":{"domain":[-0.548,0.748],"nice":false,"zero":false},"title":null},"strokeDash":{"field":"q","type":"nominal","scale":{"domain":["a","b","c"],"range":[[1,0],[7,5],[2,5]]},"legend":{"orient":"none","legendX":8,"legendY":232,"direction":"horizontal","title":null,"labelExpr":"datum.label == 'a' ? '0.5 | 0.5' : datum.label == 'b' ? '0.05 | 0.05' : '0.95 | 0.95'","symbolType":"stroke","symbolStrokeColor":"#9b1b4f","symbolStrokeWidth":2,"symbolSize":441,"labelFontSize":11.5,"labelFont":"Liberation Sans","labelColor":"#222222","strokeColor":"#333333","fillColor":"white","padding":1,"columnPadding":8,"labelOffset":8,"gridAlign":"all"}}}},
{"data":{"name":"marks"},"mark":{"type":"rule","color":"#111111","strokeWidth":1},"encoding":{"y":{"datum":-0.548,"type":"quantitative","scale":{"domain":[-0.548,0.748],"nice":false,"zero":false},"title":null},"y2":{"datum":0.825}}},
{"data":{"name":"marks"},"mark":{"type":"text","font":"Liberation Sans","fontSize":13,"color":"#222222","baseline":"middle"},"encoding":{"y":{"datum":0.853,"type":"quantitative","scale":{"domain":[-0.548,0.748],"nice":false,"zero":false},"title":null},"text":{"field":"t"}}}
]},
{"width":301,"height":261,
"encoding":{"x":{"field":"x","type":"quantitative","scale":{"domain":[-0.02,0.52],"nice":false,"zero":false},"title":"SNSRN-BTCN"}},
"layer":[
{"data":{"name":"bands"},"transform":[{"filter":"datum.p == 4"}],"mark":{"type":"area","interpolate":"monotone","color":"#bbbbbb","opacity":0.42},"encoding":{"y":{"field":"l1","type":"quantitative","scale":{"domain":[-0.548,0.748],"nice":false,"zero":false},"title":null},"y2":{"field":"h1"}}},
{"data":{"name":"bands"},"transform":[{"filter":"datum.p == 4"}],"mark":{"type":"area","interpolate":"monotone","color":"#111111","opacity":0.3},"encoding":{"y":{"field":"l2","type":"quantitative","scale":{"domain":[-0.548,0.748],"nice":false,"zero":false},"title":null},"y2":{"field":"h2"}}},
{"data":{"name":"bands"},"transform":[{"filter":"datum.p == 4"}],"mark":{"type":"area","interpolate":"monotone","color":"#777777","opacity":0.08},"encoding":{"y":{"field":"l3","type":"quantitative","scale":{"domain":[-0.548,0.748],"nice":false,"zero":false},"title":null},"y2":{"field":"h3"}}},
{"data":{"name":"bands"},"transform":[{"filter":"datum.p == 4"}],"mark":{"type":"rule","color":"#444444","strokeWidth":0.8,"strokeDash":[1,2]},"encoding":{"y":{"field":"l3","type":"quantitative","scale":{"domain":[-0.548,0.748],"nice":false,"zero":false},"title":null},"y2":{"field":"h3"}}},
{"data":{"name":"bands"},"transform":[{"filter":"datum.p == 4"},{"fold":["l1","h1"],"as":["e","v"]}],"mark":{"type":"line","interpolate":"monotone","color":"#a0a0a0","strokeWidth":1,"strokeDash":[2,2]},"encoding":{"y":{"field":"v","type":"quantitative","scale":{"domain":[-0.548,0.748],"nice":false,"zero":false},"title":null},"detail":{"field":"e"}}},
{"data":{"name":"bands"},"transform":[{"filter":"datum.p == 4"},{"fold":["l2","h2"],"as":["e","v"]}],"mark":{"type":"line","interpolate":"monotone","color":"#222222","strokeWidth":1,"strokeDash":[2,2]},"encoding":{"y":{"field":"v","type":"quantitative","scale":{"domain":[-0.548,0.748],"nice":false,"zero":false},"title":null},"detail":{"field":"e"}}},
{"data":{"name":"bands"},"transform":[{"filter":"datum.p == 4"},{"fold":["l3","h3"],"as":["e","v"]}],"mark":{"type":"line","interpolate":"monotone","color":"#555555","strokeWidth":1,"strokeDash":[2,2]},"encoding":{"y":{"field":"v","type":"quantitative","scale":{"domain":[-0.548,0.748],"nice":false,"zero":false},"title":null},"detail":{"field":"e"}}},
{"data":{"name":"lines"},"transform":[{"filter":"datum.p == 4"},{"fold":["a","b","c"],"as":["q","v"]}],"mark":{"type":"line","interpolate":"monotone","color":"#9b1b4f","strokeWidth":2},"encoding":{"y":{"field":"v","type":"quantitative","scale":{"domain":[-0.548,0.748],"nice":false,"zero":false},"title":null},"strokeDash":{"field":"q","type":"nominal","scale":{"domain":["a","b","c"],"range":[[1,0],[7,5],[2,5]]},"legend":{"orient":"none","legendX":8,"legendY":232,"direction":"horizontal","title":null,"labelExpr":"datum.label == 'a' ? '0.5 | 0.5' : datum.label == 'b' ? '0.05 | 0.05' : '0.95 | 0.95'","symbolType":"stroke","symbolStrokeColor":"#9b1b4f","symbolStrokeWidth":2,"symbolSize":441,"labelFontSize":11.5,"labelFont":"Liberation Sans","labelColor":"#222222","strokeColor":"#333333","fillColor":"white","padding":1,"columnPadding":8,"labelOffset":8,"gridAlign":"all"}}}},
{"data":{"name":"marks"},"mark":{"type":"rule","color":"#111111","strokeWidth":1},"encoding":{"y":{"datum":-0.548,"type":"quantitative","scale":{"domain":[-0.548,0.748],"nice":false,"zero":false},"title":null},"y2":{"datum":0.825}}},
{"data":{"name":"marks"},"mark":{"type":"text","font":"Liberation Sans","fontSize":13,"color":"#222222","baseline":"middle"},"encoding":{"y":{"datum":0.853,"type":"quantitative","scale":{"domain":[-0.548,0.748],"nice":false,"zero":false},"title":null},"text":{"field":"t"}}}
]}
],
"resolve":{"scale":{"strokeDash":"independent"},"legend":{"strokeDash":"independent"}},
"config":{
"font":"Liberation Sans",
"view":{"stroke":"#222222","strokeWidth":1},
"axisX":{"tickSize":8,"tickCount":5,"labelPadding":12,"domain":false,"grid":false,"labelFontSize":13,"labelFont":"Liberation Sans","labelColor":"#222222","tickColor":"#222222","titleFont":"Liberation Serif","titleFontSize":14.5,"titleFontWeight":"normal","titleColor":"#111111","titlePadding":9,"labelFlush":false,"labelExpr":"datum.value < 0 ? '-' + format(-datum.value, '.1f') : format(datum.value, '.1f')"},
"axisY":{"tickSize":8,"tickCount":6,"labelPadding":2,"labelAngle":-90,"domain":false,"grid":false,"labelFontSize":13,"labelFont":"Liberation Sans","labelColor":"#222222","tickColor":"#222222","labelFlush":false,"labelExpr":"datum.value < 0 ? '-' + format(-datum.value, '.1f') : format(datum.value, '.1f')"}
}
}
